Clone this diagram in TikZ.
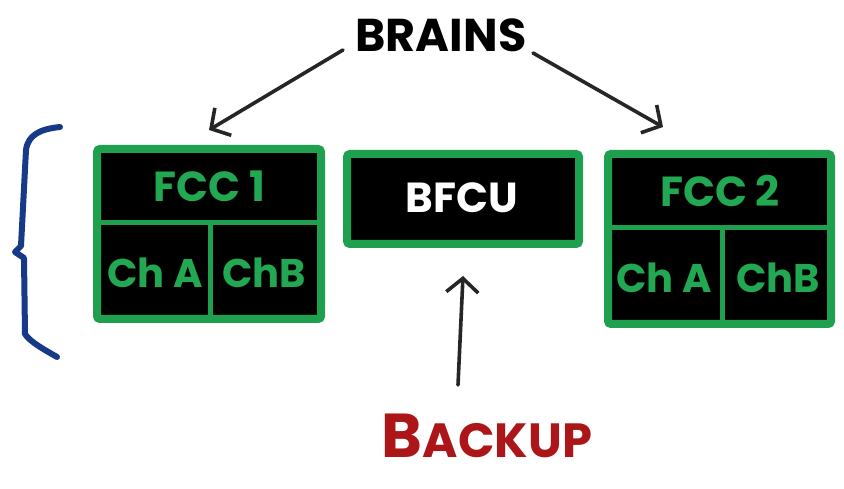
\documentclass[tikz,border=0pt]{standalone}
\usepackage{fontspec}
\setmainfont{Poppins}
\usetikzlibrary{arrows.meta}
\definecolor{boxgreen}{RGB}{30,160,78}
\definecolor{txtgreen}{RGB}{34,168,82}
\definecolor{braceblue}{RGB}{22,58,135}
\definecolor{backred}{RGB}{172,22,24}
\tikzset{
  unit/.style={draw=boxgreen, fill=black, line width=8pt, rounded corners=3pt, inner sep=0pt},
  divider/.style={draw=boxgreen, line width=5pt},
  celltext/.style={text=txtgreen, font=\fontsize{40}{40}\selectfont\bfseries, inner sep=0pt},
  pointer/.style={draw=black!85, line width=3.6pt, line cap=round, -{Straight Barb[length=14pt,width=32pt,line width=3.6pt]}},
}
\begin{document}
\begin{tikzpicture}[x=1pt,y=-1pt]
\useasboundingbox[fill=white] (0,0) rectangle (844,489);
% boxes
\node[unit, minimum width=224pt, minimum height=170pt] (fcc1) at (209,234) {};
\node[unit, minimum width=232pt, minimum height=90pt] (bfcu) at (463,199) {};
\node[unit, minimum width=223pt, minimum height=170pt] (fcc2) at (719.5,239) {};
% dividers
\coordinate (d1l) at (97,223); \coordinate (d1r) at (321,223);
\coordinate (d1t) at (210,223); \coordinate (d1b) at (210,319);
\draw[divider] (d1l) -- (d1r); \draw[divider] (d1t) -- (d1b);
\coordinate (d2l) at (608,228); \coordinate (d2r) at (831,228);
\coordinate (d2t) at (722,228); \coordinate (d2b) at (722,324);
\draw[divider] (d2l) -- (d2r); \draw[divider] (d2t) -- (d2b);
% texts
\node[celltext, font=\fontsize{42}{42}\selectfont\bfseries] (t1) at (209,186) {FCC 1};
\node[celltext] (a1) at (155,273) {Ch A};
\node[celltext] (b1) at (264,273) {ChB};
\node[celltext, font=\fontsize{42}{42}\selectfont\bfseries] (t2) at (720,191) {FCC 2};
\node[celltext] (a2) at (664,278) {Ch A};
\node[celltext] (b2) at (778,278) {ChB};
\node[text=white, font=\fontsize{42}{42}\selectfont\bfseries, inner sep=0pt] (bt) at (462,198) {BFCU};
% labels
\node[font=\fontsize{46}{46}\selectfont\bfseries, inner sep=0pt] (brains) at (441,35) {BRAINS};
\node[text=backred, font=\fontsize{62}{62}\selectfont\bfseries, inner sep=0pt] (backup) at (487,436) {B{\fontsize{48}{48}\selectfont ACKUP}};
% arrows
\coordinate (bl) at (343,50);
\coordinate (br) at (533,53);
\coordinate (hr) at (663,127);
\coordinate (bk) at (458,385);
\draw[pointer] (bl) -- ([yshift=15pt]fcc1.north);
\draw[pointer] (br) -- (hr);
\draw[pointer] (bk) -- ([yshift=-28pt]bfcu.south);
% brace
\draw[braceblue, line width=6pt, line cap=round, line join=round]
  (60,127) .. controls (40,129) and (28,135) .. (26,150)
  -- (21,246) -- (15,252) -- (24,258)
  -- (25,334) .. controls (30,342) and (45,350) .. (57,357);
\end{tikzpicture}
\end{document}
